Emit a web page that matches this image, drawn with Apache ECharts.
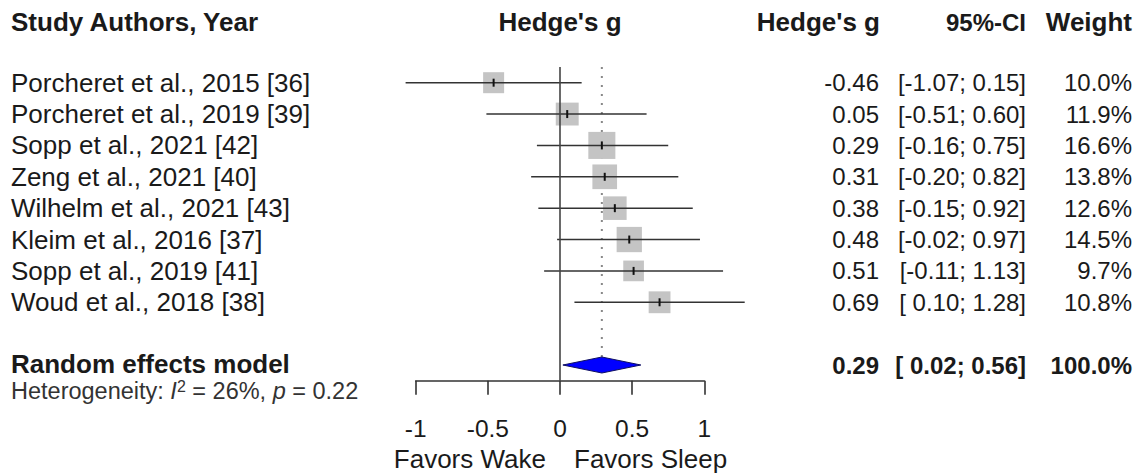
<!DOCTYPE html>
<html>
<head>
<meta charset="utf-8">
<script src="https://cdn.jsdelivr.net/npm/echarts@6/dist/echarts.min.js"></script>
<style>
html,body{margin:0;padding:0;background:#fff;}
#chart{width:1143px;height:475px;}
</style>
</head>
<body>
<div id="chart"></div>
<script>
// ---- data ----
const studies = [
  'Porcheret et al., 2015 [36]',
  'Porcheret et al., 2019 [39]',
  'Sopp et al., 2021 [42]',
  'Zeng et al., 2021 [40]',
  'Wilhelm et al., 2021 [43]',
  'Kleim et al., 2016 [37]',
  'Sopp et al., 2019 [41]',
  'Woud et al., 2018 [38]'
];
const hedgesG = [-0.46, 0.05, 0.29, 0.31, 0.38, 0.48, 0.51, 0.69];
const ciLower = [-1.07, -0.51, -0.16, -0.20, -0.15, -0.02, -0.11, 0.10];
const ciUpper = [0.15, 0.60, 0.75, 0.82, 0.92, 0.97, 1.13, 1.28];
const weights = [10.0, 11.9, 16.6, 13.8, 12.6, 14.5, 9.7, 10.8];
const summaryLabel = 'Random effects model';
const summaryG = 0.29;
const summaryLower = 0.02;
const summaryUpper = 0.56;
const summaryWeight = 100.0;
const heterogeneityI2 = '26%';
const heterogeneityP = '0.22';
const xTickValues = [-1, -0.5, 0, 0.5, 1];
const labelLeft = 'Favors Wake';
const labelRight = 'Favors Sleep';

// ---- build ----
const FONT = "'Liberation Sans', Arial, Helvetica, sans-serif";
const TXT = '#1a1a1a';
const summaryRow = studies.length + 1;
const rowNames = studies.concat(['', summaryLabel]);
const fmtCI = (lo, hi) => '[' + (lo < 0 ? '' : ' ') + lo.toFixed(2) + '; ' + hi.toFixed(2) + ']';
const gCol = hedgesG.map(v => v.toFixed(2)).concat(['', summaryG.toFixed(2)]);
const ciCol = hedgesG.map((v, i) => fmtCI(ciLower[i], ciUpper[i])).concat(['', fmtCI(summaryLower, summaryUpper)]);
const wCol = weights.map(v => v.toFixed(1) + '%').concat(['', summaryWeight.toFixed(1) + '%']);

const studyData = studies.map((s, i) => [hedgesG[i], i, ciLower[i], ciUpper[i], weights[i]]);

const GRID_LEFT = 415.7, GRID_RIGHT_X = 704.3;
function rightAxis(data, xRight) {
  return {
    type: 'category', position: 'right', inverse: true, data: data,
    axisLine: {show: false}, axisTick: {show: false}, splitLine: {show: false},
    axisLabel: {
      interval: 0, align: 'right', margin: xRight - GRID_RIGHT_X,
      fontSize: 24, lineHeight: 24, fontFamily: FONT, color: TXT,
      formatter: (v, idx) => idx === summaryRow ? '{b|' + v + '}' : v,
      rich: {b: {fontSize: 24, lineHeight: 24, fontWeight: 'bold', fontFamily: FONT, color: TXT}}
    }
  };
}

const chart = echarts.init(document.getElementById('chart'), null, {renderer: 'svg'});
chart.setOption({
  animation: false,
  backgroundColor: '#fff',
  grid: {left: GRID_LEFT, right: 1143 - GRID_RIGHT_X, top: 67, bottom: 94.3, containLabel: false},
  xAxis: {
    type: 'value', min: -1, max: 1, interval: 0.5,
    axisLine: {show: true, onZero: false, lineStyle: {color: '#333', width: 1.6}},
    axisTick: {show: true, inside: false, length: 14, lineStyle: {color: '#333', width: 1.6}},
    splitLine: {show: false},
    axisLabel: {show: true, margin: 35, fontSize: 24.5, fontFamily: FONT, color: TXT,
      customValues: xTickValues}
  },
  yAxis: [
    {
      type: 'category', position: 'left', inverse: true, data: rowNames,
      axisLine: {show: false}, axisTick: {show: false}, splitLine: {show: false},
      axisLabel: {
        interval: 0, align: 'left', margin: GRID_LEFT - 11,
        fontSize: 26, lineHeight: 24, fontFamily: FONT, color: TXT,
        formatter: (v, idx) => idx === summaryRow ? '{b|' + v + '}' : v,
        rich: {b: {fontSize: 26, lineHeight: 22, fontWeight: 'bold', fontFamily: FONT, color: TXT, padding: [0, 0, 3, 0]}}
      }
    },
    rightAxis(gCol, 879),
    rightAxis(ciCol, 1026),
    rightAxis(wCol, 1132)
  ],
  series: [
    {
      name: 'null line', type: 'line', data: [], z: 1,
      markLine: {
        silent: true, symbol: 'none', label: {show: false},
        lineStyle: {color: '#444', width: 1.6, type: 'solid'},
        data: [{xAxis: 0}]
      }
    },
    {
      name: 'summary', type: 'custom', z: 2, clip: false,
      data: [[summaryG, summaryRow, summaryLower, summaryUpper]],
      renderItem: function (params, api) {
        const c = api.coord([api.value(0), api.value(1)]);
        const l = api.coord([api.value(2), api.value(1)]);
        const r = api.coord([api.value(3), api.value(1)]);
        const h = 8;
        const top = params.coordSys.y;
        return {type: 'group', children: [
          {type: 'line', shape: {x1: c[0], y1: top, x2: c[0], y2: c[1] - h},
           style: {stroke: '#888', lineWidth: 2, lineDash: [2, 7]}},
          {type: 'polygon', shape: {points: [[l[0], c[1]], [c[0], c[1] - h], [r[0], c[1]], [c[0], c[1] + h]]},
           style: {fill: '#0000ff', stroke: '#101060', lineWidth: 1}}
        ]};
      }
    },
    {
      name: 'studies', type: 'custom', z: 3, clip: false,
      data: studyData,
      renderItem: function (params, api) {
        const row = api.value(1);
        const c = api.coord([api.value(0), row]);
        const l = api.coord([api.value(2), row]);
        const r = api.coord([api.value(3), row]);
        const s = 6.64 * Math.sqrt(api.value(4));
        return {type: 'group', children: [
          {type: 'rect', shape: {x: c[0] - s / 2, y: c[1] - s / 2, width: s, height: s},
           style: {fill: '#c4c4c4'}},
          {type: 'line', shape: {x1: l[0], y1: l[1], x2: r[0], y2: r[1]},
           style: {stroke: '#333', lineWidth: 1.5}},
          {type: 'line', shape: {x1: c[0], y1: c[1] - 4, x2: c[0], y2: c[1] + 4},
           style: {stroke: '#111', lineWidth: 2}}
        ]};
      }
    }
  ],
  graphic: [
    {type: 'text', x: 11, y: 22, style: {text: 'Study Authors, Year', font: "bold 26px " + FONT, fill: TXT, textAlign: 'left', textVerticalAlign: 'middle'}},
    {type: 'text', x: 560, y: 22, style: {text: "Hedge's g", font: "bold 26px " + FONT, fill: TXT, textAlign: 'center', textVerticalAlign: 'middle'}},
    {type: 'text', x: 880, y: 22, style: {text: "Hedge's g", font: "bold 26px " + FONT, fill: TXT, textAlign: 'right', textVerticalAlign: 'middle'}},
    {type: 'text', x: 1026, y: 22, style: {text: '95%-CI', font: "bold 24px " + FONT, fill: TXT, textAlign: 'right', textVerticalAlign: 'middle'}},
    {type: 'text', x: 1132, y: 22, style: {text: 'Weight', font: "bold 26px " + FONT, fill: TXT, textAlign: 'right', textVerticalAlign: 'middle'}},
    {type: 'text', x: 11, y: 391, style: {
      text: 'Heterogeneity: {i|I}{s|2} = ' + heterogeneityI2 + ', {i|p} = ' + heterogeneityP,
      fontSize: 23.5, lineHeight: 20, fontFamily: FONT, fill: '#333', textAlign: 'left', textVerticalAlign: 'middle',
      rich: {
        i: {fontSize: 23.5, lineHeight: 20, fontStyle: 'italic', fontFamily: FONT, fill: '#333'},
        s: {fontSize: 16, lineHeight: 20, fontFamily: FONT, fill: '#333', padding: [0, 0, 10, 0]}
      }}},
    {type: 'text', x: 546, y: 459, style: {text: labelLeft, font: "26px " + FONT, fill: TXT, textAlign: 'right', textVerticalAlign: 'middle'}},
    {type: 'text', x: 574, y: 459, style: {text: labelRight, font: "26px " + FONT, fill: TXT, textAlign: 'left', textVerticalAlign: 'middle'}}
  ]
});
</script>
</body>
</html>
